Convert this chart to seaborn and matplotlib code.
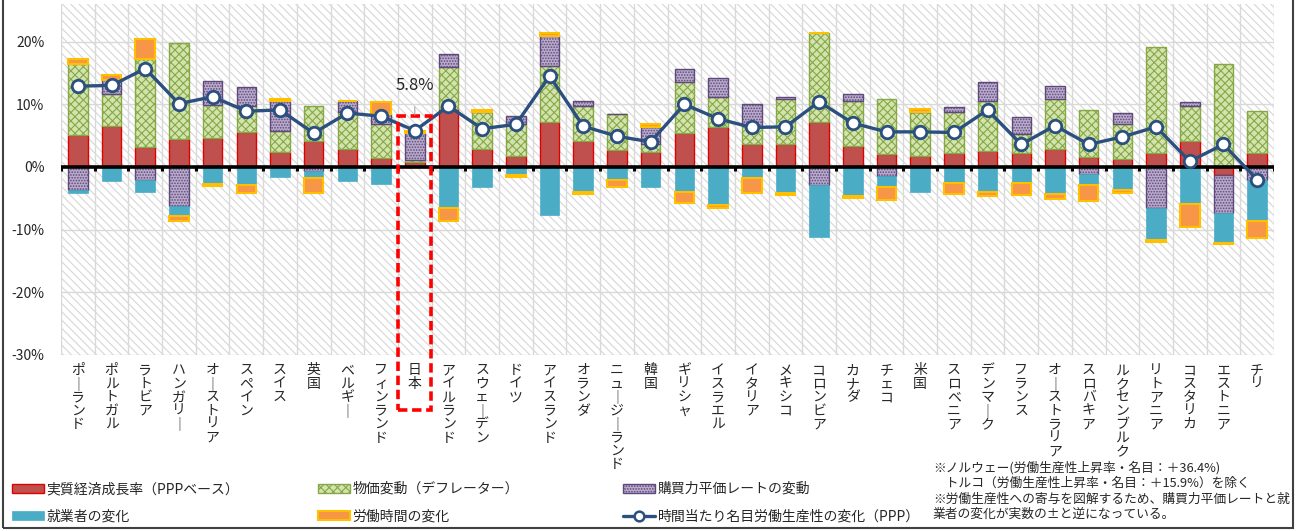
import matplotlib
matplotlib.use("Agg")
import matplotlib.pyplot as plt
from matplotlib.patches import Rectangle
from matplotlib.lines import Line2D
import seaborn as sns
import numpy as np
import pandas as pd

# ---- data (% change) ----
countries = ["ポーランド", "ポルトガル", "ラトビア", "ハンガリー", "オーストリア", "スペイン",
             "スイス", "英国", "ベルギー", "フィンランド", "日本", "アイルランド", "スウェーデン",
             "ドイツ", "アイスランド", "オランダ", "ニュージーランド", "韓国", "ギリシャ",
             "イスラエル", "イタリア", "メキシコ", "コロンビア", "カナダ", "チェコ", "米国",
             "スロベニア", "デンマーク", "フランス", "オーストラリア", "スロバキア",
             "ルクセンブルク", "リトアニア", "コスタリカ", "エストニア", "チリ"]

real_growth = [5.1, 6.6, 3.2, 4.4, 4.7, 5.6, 2.4, 4.1, 2.8, 1.5, 0.8, 9.3, 2.8, 1.7, 7.1, 4.1, 2.7, 2.4,
               5.4, 6.4, 3.6, 3.7, 7.1, 3.3, 2.1, 1.8, 2.3, 2.6, 2.3, 2.8, 1.6, 1.2, 2.2, 4.1, -1.3, 2.3]
price = [11.4, 5.0, 14.1, 15.4, 5.2, 4.1, 3.3, 5.6, 6.0, 5.4, 0.3, 6.6, 6.0, 5.2, 9.0, 5.6, 5.7, 1.2,
         8.2, 4.7, 3.0, 7.1, 14.3, 7.2, 8.7, 7.0, 6.5, 8.0, 2.9, 8.0, 7.5, 5.7, 16.9, 5.7, 16.5, 6.7]
ppp = [-3.6, 2.2, -2.1, -6.2, 3.8, 3.0, 4.9, -0.6, 1.7, 1.6, 4.3, 2.2, 0.0, 1.2, 4.8, 0.9, 0.0, 2.8,
       2.1, 3.1, 3.4, 0.3, -2.8, 1.1, -1.4, 0.0, 0.8, 3.0, 2.7, 2.1, -1.1, 1.7, -6.5, 0.5, -6.0, -2.0]
employment = [-0.5, -2.3, -1.9, -1.7, -2.7, -2.8, -1.6, -1.1, -2.2, -2.7, 0.0, -6.6, -3.2, -1.3, -7.7,
              -4.0, -2.1, -3.2, -4.0, -6.0, -1.8, -4.1, -8.3, -4.7, -1.8, -4.0, -2.5, -4.0, -2.5, -4.3,
              -1.7, -3.6, -5.2, -5.9, -4.8, -6.7]
hours = [0.8, 0.8, 3.1, -0.7, -0.4, -1.3, 0.3, -2.4, 0.0, 1.9, 0.3, -2.0, 0.3, -0.3, 0.5, -0.3, -1.1,
         0.5, -1.7, -0.6, -2.3, -0.4, 0.0, -0.2, -2.0, 0.5, -1.8, -0.7, -1.9, -0.8, -2.6, -0.5, -0.3,
         -3.7, -0.2, -2.6]
productivity = [12.9, 13.0, 15.7, 10.1, 11.2, 8.9, 9.1, 5.4, 8.6, 8.1, 5.8, 9.7, 6.1, 6.8, 14.5, 6.5,
                4.9, 4.0, 10.0, 7.7, 6.3, 6.4, 10.4, 7.0, 5.6, 5.6, 5.5, 9.1, 3.6, 6.6, 3.6, 4.8, 6.4,
                0.9, 3.6, -2.0]

labels = ["実質経済成長率（PPPベース）", "物価変動（デフレーター）", "購買力平価レートの変動",
          "就業者の変化", "労働時間の変化", "時間当たり名目労働生産性の変化（PPP）"]
highlight = "日本"

notes = ("※ノルウェー(労働生産性上昇率・名目：＋36.4%)\n"
         "　トルコ（労働生産性上昇率・名目：＋15.9%）を除く\n"
         "※労働生産性への寄与を図解するため、購買力平価レートと就\n"
         "業者の変化が実数の±と逆になっている。")

# ---- style ----
sns.set_style("white")
plt.rcParams["font.family"] = ["Noto Sans CJK JP", "DejaVu Sans"]
plt.rcParams["hatch.linewidth"] = 0.8

series = [real_growth, price, ppp, employment, hours]
styles = [
    dict(facecolor="#C0504D", edgecolor="#E00000", linewidth=1.0),
    dict(facecolor="#D3E3AE", edgecolor="#86A846", linewidth=1.0, hatch="xxxx"),
    dict(facecolor="#B9ABCC", edgecolor="#5F497A", linewidth=1.0, hatch="......"),
    dict(facecolor="#4BACC6", edgecolor="#4BACC6", linewidth=0.5),
    dict(facecolor="#F79646", edgecolor="#FFC000", linewidth=1.5),
]
line_color = "#2B4F7E"

fig = plt.figure(figsize=(13, 5.31), dpi=100)
ax = fig.add_axes([61 / 1300, 1 - 355 / 531, (1274 - 61) / 1300, (355 - 4) / 531])

x = np.arange(len(countries))

# hatched plot area background
ax.add_patch(Rectangle((0, 0), 1, 1, transform=ax.transAxes, facecolor="white",
                       edgecolor="#D6D6D6", hatch="\\\\\\\\", linewidth=0, zorder=0))

# stacked bars, positives and negatives stacked separately (Excel style)
pos_bottom = np.zeros(len(x))
neg_bottom = np.zeros(len(x))
handles = []
for vals, st in zip(series, styles):
    v = np.array(vals)
    bottom = np.where(v >= 0, pos_bottom, neg_bottom)
    bars = ax.bar(x, v, width=0.58, bottom=bottom, zorder=3, **st)
    handles.append(bars)
    pos_bottom += np.where(v > 0, v, 0)
    neg_bottom += np.where(v < 0, v, 0)

# zero axis with tick marks at category boundaries
ax.axhline(0, color="black", lw=2.6, zorder=4)
ax.vlines(np.arange(len(x) + 1) - 0.5, -0.7, 0, color="black", lw=2.2, zorder=4)

# productivity line
df = pd.DataFrame({"x": x, "productivity": productivity})
sns.lineplot(data=df, x="x", y="productivity", ax=ax, color=line_color, lw=2.4,
             marker="o", markersize=9, markerfacecolor="white", markeredgecolor=line_color,
             markeredgewidth=2, zorder=5)

# Japan highlight + label
ji = countries.index(highlight)
ax.add_patch(Rectangle((ji - 0.485, -38.8), 0.97, 38.8 + 8.1, fill=False, edgecolor="#FF0000",
                       lw=2.6, linestyle=(0, (2.6, 1.3)), clip_on=False, zorder=6))
ax.annotate(f"{productivity[ji]:.1f}%", xy=(ji, 8.3), xytext=(ji, 13.0), ha="center", va="center",
            fontsize=12, arrowprops=dict(arrowstyle="-", color="#A6A6A6", lw=0.8,
                                         shrinkA=7, shrinkB=0), zorder=6)

# axes
ax.set_xlim(-0.5, len(x) - 0.5)
ax.set_ylim(-30, 26)
ax.set_yticks(np.arange(-30, 21, 10))
ax.set_yticklabels([f"{t}%" for t in np.arange(-30, 21, 10)], fontsize=10)
ax.set_xticks(x)
ax.set_xticklabels(["\n".join("｜" if c == "ー" else c for c in name) for name in countries],
                   fontsize=10, linespacing=0.95, va="top")
ax.set_xticks(np.arange(len(x) + 1) - 0.5, minor=True)
ax.tick_params(axis="both", which="both", length=0)
ax.tick_params(axis="x", pad=6)
ax.tick_params(axis="y", pad=12)
ax.grid(axis="y", which="major", color="#D9D9D9", lw=1, zorder=1)
ax.grid(axis="x", which="minor", color="#D9D9D9", lw=1, zorder=1)
ax.grid(axis="x", which="major", visible=False)
ax.set_axisbelow(True)
for s in ax.spines.values():
    s.set_visible(False)
ax.set_xlabel("")
ax.set_ylabel("")

# legends: three columns, two rows each
line_handle = Line2D([], [], color=line_color, lw=2.4, marker="o", markersize=7,
                     markerfacecolor="white", markeredgecolor=line_color, markeredgewidth=1.8)
cols = [([handles[0], handles[3]], [labels[0], labels[3]], 12),
        ([handles[1], handles[4]], [labels[1], labels[4]], 318),
        ([handles[2], line_handle], [labels[2], labels[5]], 623)]
for hs, ls, xpx in cols:
    fig.legend(hs, ls, loc="upper left", bbox_to_anchor=(xpx / 1300, 1 - 482 / 531),
               frameon=False, fontsize=10, handlelength=2.3, handleheight=0.6,
               handletextpad=0.2, labelspacing=0.95, borderpad=0, borderaxespad=0)

fig.text(933 / 1300, 1 - 461 / 531, notes, fontsize=9.2, va="top", ha="left", linespacing=1.25)

# outer chart border
fig.patches.append(Rectangle((2.5 / 1300, 3 / 531), 1290 / 1300, 1.05, transform=fig.transFigure,
                             fill=False, edgecolor="#404040", lw=1.5))

fig.savefig("out.png", dpi=100)
